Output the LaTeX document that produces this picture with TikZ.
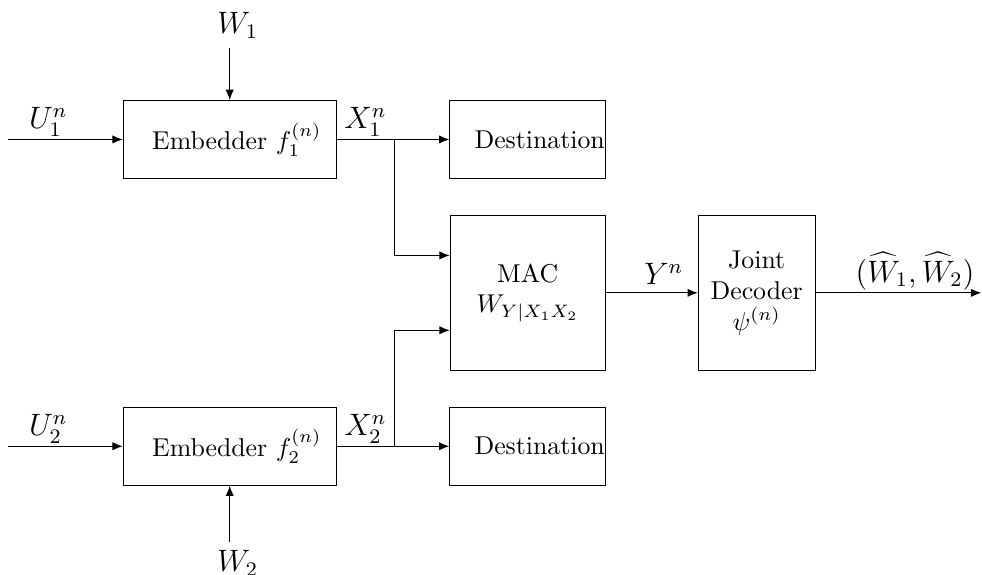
\documentclass[tikz,border=0pt]{standalone}
\usepackage{tikz}
\usetikzlibrary{arrows.meta,positioning,calc}
\tikzset{
  embbox/.style={rectangle, draw, minimum height=1.06cm,
    text width=2.5cm, align=right, inner xsep=0.2cm},
  destbox/.style={rectangle, draw, minimum height=1.06cm,
    text width=2.1cm, align=right, inner xsep=0.01cm},
  chanbox/.style={rectangle, draw, minimum width=#1, minimum height=2.11cm,
    align=center},
  chanbox/.default=2.11cm,
  sigarrow/.style={-{Latex[length=4pt,width=3.2pt]}},
  siglabel/.style={above, inner sep=1pt, font=\large},
  msglabel/.style={font=\large},
}
\begin{document}
\begin{tikzpicture}
  \useasboundingbox (0,0) rectangle (13.38,-7.834);
  % encoders and destinations
  \node[embbox] (emb1) at (3.13,-1.90) {Embedder $f_1^{(n)}$};
  \node[embbox] (emb2) at (3.13,-6.08) {Embedder $f_2^{(n)}$};
  \node[destbox] (dest1) at (7.19,-1.90) {Destination};
  \node[destbox] (dest2) at (7.19,-6.08) {Destination};
  \node[chanbox] (mac) at (7.19,-3.99) {MAC\\ $W_{Y|X_1X_2}$};
  \node[chanbox=1.59cm] (dec) at (10.31,-3.99) {Joint\\ Decoder\\ $\psi^{(n)}$};
  % inputs and messages
  \coordinate (u1) at (0.11,-1.90);
  \coordinate (u2) at (0.11,-6.08);
  \node[msglabel] (w1) at (3.24,-0.35) {$W_1$};
  \node[msglabel] (w2) at (3.24,-7.68) {$W_2$};
  \coordinate (j1) at (5.37,-1.90);
  \coordinate (j2) at (5.37,-6.08);
  \coordinate (out) at (13.37,-3.99);
  \draw[sigarrow] (u1) -- (emb1) node[siglabel, pos=0.35] {$U_1^n$};
  \draw[sigarrow] (u2) -- (emb2) node[siglabel, pos=0.35] {$U_2^n$};
  \draw[sigarrow] (w1.south -| emb1) -- (emb1);
  \draw[sigarrow] (w2.north -| emb2) -- (emb2);
  \draw (emb1) -- (j1) node[siglabel, midway] {$X_1^n$};
  \draw (emb2) -- (j2) node[siglabel, midway] {$X_2^n$};
  \draw[sigarrow] (j1) -- (dest1);
  \draw[sigarrow] (j2) -- (dest2);
  \draw[sigarrow] (j1) |- ([yshift=0.51cm]mac.west);
  \draw[sigarrow] (j2) |- ([yshift=-0.51cm]mac.west);
  \draw[sigarrow] (mac) -- (dec) node[siglabel, pos=0.63, inner sep=3pt] {$Y^n$};
  \draw[sigarrow] (dec) -- (out) node[siglabel, pos=0.6] {$(\widehat{W}_1,\widehat{W}_2)$};
\end{tikzpicture}
\end{document}
